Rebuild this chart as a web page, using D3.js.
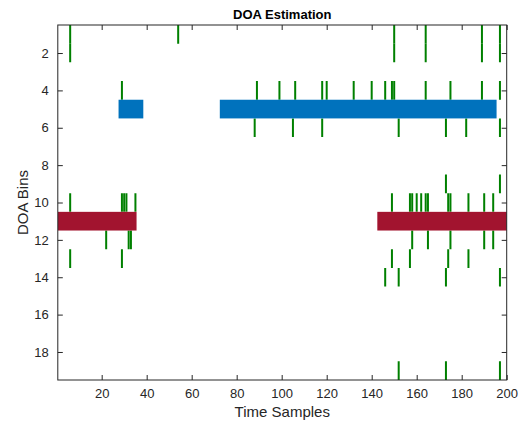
<!DOCTYPE html>
<html>
<head>
<meta charset="utf-8">
<script src="https://cdn.jsdelivr.net/npm/d3@7/dist/d3.min.js"></script>
<style>
  html, body { margin: 0; padding: 0; background: #ffffff; }
  svg { display: block; }
  text { font-family: "Liberation Sans", Arial, Helvetica, sans-serif; }
</style>
</head>
<body>
<svg id="chart" width="526" height="426"></svg>
<script>
// ---- data ----
const timeDomain = [0.5, 200];
const binDomain = [0.5, 19.5];
const xTickValues = [20, 40, 60, 80, 100, 120, 140, 160, 180, 200];
const yTickValues = [2, 4, 6, 8, 10, 12, 14, 16, 18];

// source tracks (thick bands): start sample, end sample, bin
const blueStart = [28, 73];
const blueEnd = [38, 195];
const blueBin = 5;
const redStart = [1, 143];
const redEnd = [35, 200];
const redBin = 11;

// raw detections (green): time sample and DOA bin
const detTime = [
  6, 54, 150, 164, 189, 197,
  6, 150, 164, 189, 197,
  29, 89, 99, 106, 118, 120, 132, 140, 146, 149, 150, 164, 175, 189, 197,
  88, 105, 118, 152, 173, 182, 197,
  173, 197,
  6, 29, 30, 31, 35, 149, 157, 158, 160, 162, 164, 165, 174, 175, 183, 190, 194,
  22, 32, 33, 158, 165, 175, 190, 194,
  6, 29, 149, 157, 174, 183,
  146, 152, 173, 197,
  152, 173, 197
];
const detBin = [
  1, 1, 1, 1, 1, 1,
  2, 2, 2, 2, 2,
  4, 4, 4, 4, 4, 4, 4, 4, 4, 4, 4, 4, 4, 4, 4,
  6, 6, 6, 6, 6, 6, 6,
  9, 9,
  10, 10, 10, 10, 10, 10, 10, 10, 10, 10, 10, 10, 10, 10, 10, 10, 10,
  12, 12, 12, 12, 12, 12, 12, 12,
  13, 13, 13, 13, 13, 13,
  14, 14, 14, 14,
  19, 19, 19
];

const titleText = "DOA Estimation";
const xLabelText = "Time Samples";
const yLabelText = "DOA Bins";

// ---- layout ----
const plot = { left: 57.8, right: 506.7, top: 25, bottom: 380 };
const axisColor = "#262626";

const svg = d3.select("#chart");
const x = d3.scaleLinear().domain(timeDomain).range([plot.left, plot.right]);
const y = d3.scaleLinear().domain(binDomain).range([plot.top, plot.bottom]);

svg.append("defs").append("clipPath").attr("id", "clip")
  .append("rect")
  .attr("x", plot.left).attr("y", plot.top)
  .attr("width", plot.right - plot.left).attr("height", plot.bottom - plot.top);

const g = svg.append("g").attr("clip-path", "url(#clip)");

// green detections
const dets = detTime.map((t, i) => ({ t, b: detBin[i] }));
g.selectAll("line.det").data(dets).enter().append("line")
  .attr("class", "det")
  .attr("x1", d => x(d.t)).attr("x2", d => x(d.t))
  .attr("y1", d => y(d.b - 0.5)).attr("y2", d => y(d.b + 0.5))
  .attr("stroke", "#008000").attr("stroke-width", 2);

// bands
function bands(starts, ends, bin, color) {
  const data = starts.map((s, i) => ({ s, e: ends[i] }));
  g.selectAll(null).data(data).enter().append("rect")
    .attr("x", d => x(d.s - 0.5))
    .attr("width", d => x(d.e + 0.5) - x(d.s - 0.5))
    .attr("y", y(bin - 0.5))
    .attr("height", y(bin + 0.5) - y(bin - 0.5))
    .attr("fill", color);
}
bands(blueStart, blueEnd, blueBin, "#0072BD");
bands(redStart, redEnd, redBin, "#A2142F");

// axes
const tickLen = 5;
const fontTick = 13;

const xAxisB = d3.axisBottom(x).tickValues(xTickValues).tickSizeInner(-tickLen).tickSizeOuter(0).tickPadding(9);
const xAxisT = d3.axisTop(x).tickValues(xTickValues).tickSizeInner(-tickLen).tickSizeOuter(0).tickFormat("");
const yAxisL = d3.axisLeft(y).tickValues(yTickValues).tickSizeInner(-tickLen).tickSizeOuter(0).tickPadding(9);
const yAxisR = d3.axisRight(y).tickValues(yTickValues).tickSizeInner(-tickLen).tickSizeOuter(0).tickFormat("");

function styleAxis(sel) {
  sel.select(".domain").remove();
  sel.selectAll(".tick line").attr("stroke", axisColor).attr("stroke-width", 1);
  sel.selectAll(".tick text").attr("fill", axisColor)
    .style("font-size", fontTick + "px")
    .style("font-family", '"Liberation Sans", Arial, sans-serif');
}

svg.append("g").attr("transform", `translate(0,${plot.bottom})`).call(xAxisB).call(styleAxis);
svg.append("g").attr("transform", `translate(0,${plot.top})`).call(xAxisT).call(styleAxis);
svg.append("g").attr("transform", `translate(${plot.left},0)`).call(yAxisL).call(styleAxis);
svg.append("g").attr("transform", `translate(${plot.right},0)`).call(yAxisR).call(styleAxis);

// box
svg.append("rect")
  .attr("x", plot.left).attr("y", plot.top)
  .attr("width", plot.right - plot.left).attr("height", plot.bottom - plot.top)
  .attr("fill", "none").attr("stroke", axisColor).attr("stroke-width", 1);

// title and labels
svg.append("text")
  .attr("x", (plot.left + plot.right) / 2).attr("y", 19)
  .attr("text-anchor", "middle")
  .attr("fill", "#000")
  .style("font-size", "13px").style("font-weight", "bold")
  .text(titleText);

svg.append("text")
  .attr("x", (plot.left + plot.right) / 2).attr("y", 417)
  .attr("text-anchor", "middle")
  .attr("fill", axisColor)
  .style("font-size", "15px")
  .text(xLabelText);

svg.append("text")
  .attr("transform", `translate(28,${(plot.top + plot.bottom) / 2}) rotate(-90)`)
  .attr("text-anchor", "middle")
  .attr("fill", axisColor)
  .style("font-size", "15px")
  .text(yLabelText);
</script>
</body>
</html>
